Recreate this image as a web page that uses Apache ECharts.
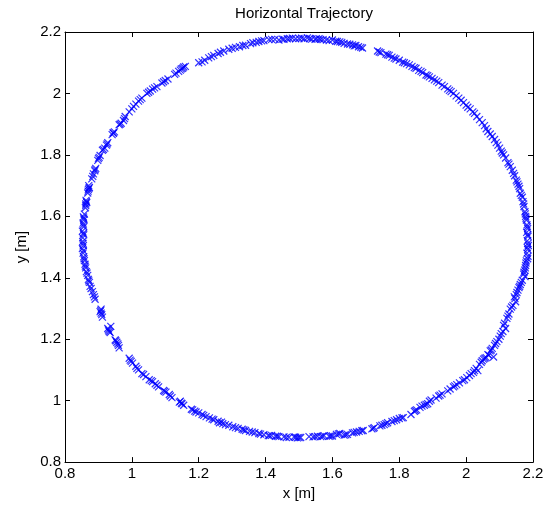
<!DOCTYPE html>
<html>
<head>
<meta charset="utf-8">
<script src="https://cdn.jsdelivr.net/npm/echarts@6/dist/echarts.min.js"></script>
<style>
  html, body { margin: 0; padding: 0; background: #fff; }
  #traj { width: 549px; height: 506px; }
</style>
</head>
<body>
<div id="traj"></div>
<script>
// axis ticks
const xTicks = [0.8, 1, 1.2, 1.4, 1.6, 1.8, 2, 2.2];
const yTicks = [0.8, 1, 1.2, 1.4, 1.6, 1.8, 2, 2.2];

const upperLeft = [
  [0.853,1.530],[0.855,1.545],[0.852,1.552],[0.856,1.566],[0.854,1.578],[0.857,1.589],
  [0.855,1.598],[0.858,1.607],[0.861,1.628],[0.862,1.640],[0.865,1.645],[0.863,1.652],
  [0.868,1.676],[0.870,1.688],[0.873,1.694],[0.871,1.700],[0.880,1.722],[0.885,1.738],
  [0.889,1.748],[0.892,1.756],[0.898,1.782],[0.902,1.792],[0.905,1.798],[0.912,1.815],
  [0.919,1.822],[0.924,1.832],[0.928,1.840],[0.941,1.866],[0.944,1.872],[0.948,1.875],
  [0.962,1.898],[0.968,1.903],[0.975,1.912],[0.980,1.925],[0.992,1.940],[1.005,1.958],
  [1.012,1.965],[1.020,1.975],[1.030,1.985],[1.045,2.000],[1.055,2.008],[1.062,2.014],
  [1.075,2.022],[1.090,2.034],[1.100,2.042],[1.108,2.047],[1.128,2.062],[1.140,2.072],
  [1.148,2.080],[1.155,2.086],[1.200,2.100],[1.210,2.103],[1.230,2.116],[1.245,2.124],
  [1.258,2.130],[1.275,2.138],[1.290,2.144],[1.310,2.150],[1.322,2.152],[1.340,2.157],
  [1.355,2.162],[1.372,2.166],[1.380,2.169],[1.395,2.172],[1.410,2.175],[1.428,2.176],
  [1.440,2.174],[1.450,2.177],[1.465,2.178],[1.480,2.180],[1.500,2.179],[1.508,2.180]
];
const upperRight = [
  [1.515,2.178],[1.525,2.181],[1.538,2.177],[1.548,2.176],[1.560,2.178],[1.572,2.175],
  [1.590,2.172],[1.600,2.174],[1.610,2.170],[1.622,2.168],[1.635,2.163],[1.645,2.161],
  [1.660,2.158],[1.670,2.156],[1.685,2.150],[1.690,2.148],[1.735,2.138],[1.740,2.135],
  [1.760,2.128],[1.770,2.124],[1.778,2.118],[1.790,2.112],[1.800,2.108],[1.810,2.102],
  [1.822,2.097],[1.838,2.088],[1.850,2.082],[1.858,2.075],[1.870,2.068],[1.880,2.060],
  [1.890,2.054],[1.905,2.044],[1.918,2.035],[1.928,2.027],[1.945,2.015],[1.955,2.006],
  [1.962,2.000],[1.978,1.985],[1.985,1.978],[1.992,1.970],[2.005,1.955],[2.012,1.950],
  [2.020,1.940],[2.032,1.925],[2.040,1.915],[2.048,1.905],[2.060,1.885],[2.065,1.876],
  [2.072,1.868],[2.085,1.850],[2.090,1.840],[2.095,1.832],[2.105,1.812],[2.112,1.800],
  [2.118,1.790],[2.125,1.775],[2.132,1.762],[2.138,1.750],[2.145,1.732],[2.150,1.718],
  [2.155,1.705],[2.160,1.690],[2.162,1.675],[2.168,1.662],[2.170,1.648],[2.173,1.632],
  [2.176,1.615],[2.178,1.600],[2.180,1.588],[2.182,1.572],[2.184,1.560],[2.181,1.548],
  [2.185,1.535]
];
const lowerRight = [
  [2.183,1.520],[2.186,1.505],[2.184,1.492],[2.182,1.480],[2.185,1.470],[2.180,1.455],
  [2.178,1.440],[2.175,1.425],[2.172,1.412],[2.176,1.404],[2.168,1.392],[2.162,1.378],
  [2.158,1.368],[2.155,1.360],[2.150,1.345],[2.146,1.332],[2.148,1.322],[2.140,1.310],
  [2.132,1.298],[2.128,1.282],[2.122,1.268],[2.115,1.252],[2.118,1.235],[2.110,1.225],
  [2.102,1.210],[2.098,1.200],[2.092,1.192],[2.085,1.180],[2.078,1.170],[2.072,1.162],
  [2.082,1.142],[2.068,1.148],[2.060,1.140],[2.052,1.135],[2.045,1.125],[2.040,1.118],
  [2.030,1.105],[2.035,1.098],[2.022,1.092],[2.010,1.082],[2.002,1.075],[1.995,1.068],
  [1.980,1.058],[1.972,1.052],[1.962,1.045],[1.945,1.032],[1.928,1.022],[1.918,1.015],
  [1.910,1.008],[1.890,0.998],[1.885,0.990],[1.875,0.985],[1.862,0.978],[1.852,0.970],
  [1.845,0.965],[1.835,0.955],[1.812,0.945],[1.800,0.942],[1.792,0.938],[1.778,0.932],
  [1.765,0.928],[1.755,0.922],[1.742,0.918],[1.725,0.912],[1.718,0.908],[1.692,0.903],
  [1.680,0.900],[1.672,0.898],[1.660,0.895],[1.645,0.890],[1.635,0.888],[1.622,0.893],
  [1.612,0.890],[1.600,0.885],[1.590,0.884],[1.575,0.886],[1.565,0.883],[1.555,0.884],
  [1.542,0.882],[1.530,0.883]
];
const lowerLeft = [
  [1.505,0.880],[1.495,0.879],[1.485,0.882],[1.470,0.881],[1.455,0.882],[1.440,0.883],
  [1.430,0.884],[1.418,0.887],[1.408,0.886],[1.395,0.889],[1.380,0.893],[1.368,0.896],
  [1.352,0.900],[1.340,0.903],[1.330,0.907],[1.318,0.910],[1.302,0.915],[1.290,0.920],
  [1.272,0.925],[1.268,0.930],[1.258,0.933],[1.245,0.938],[1.232,0.944],[1.222,0.948],
  [1.210,0.955],[1.200,0.960],[1.188,0.966],[1.178,0.972],[1.155,0.985],[1.148,0.992],
  [1.145,0.998],[1.120,1.010],[1.112,1.020],[1.102,1.028],[1.095,1.033],[1.080,1.045],
  [1.070,1.055],[1.062,1.062],[1.052,1.068],[1.042,1.078],[1.030,1.088],[1.020,1.100],
  [1.012,1.112],[1.002,1.122],[0.995,1.132],[0.992,1.138],[0.962,1.172],[0.960,1.180],
  [0.955,1.190],[0.950,1.198],[0.935,1.222],[0.930,1.230],[0.937,1.242],[0.912,1.272],
  [0.910,1.280],[0.905,1.290],[0.908,1.298],[0.890,1.330],[0.885,1.345],[0.882,1.355],
  [0.875,1.372],[0.873,1.385],[0.870,1.395],[0.868,1.408],[0.864,1.420],[0.862,1.432],
  [0.860,1.444],[0.858,1.456],[0.856,1.468],[0.854,1.480],[0.852,1.495],[0.855,1.505],
  [0.853,1.518]
];
// second pass around the loop, overlapping the first
const secondLap = [
  [1.152,2.082],[1.160,2.088],[1.218,2.108],[1.238,2.120],[1.265,2.134],[1.300,2.147],
  [1.332,2.156],[1.362,2.165],[1.388,2.171],[1.418,2.176],[1.455,2.176],[1.472,2.179],
  [1.490,2.178],[1.532,2.179],[1.552,2.178],[1.565,2.176],[1.582,2.174],[1.615,2.169],
  [1.628,2.166],[1.652,2.160],[1.665,2.155],[1.678,2.152],[1.745,2.133],[1.765,2.126],
  [1.785,2.115],[1.815,2.100],[1.830,2.093],[1.845,2.084],[1.865,2.072],[1.885,2.058],
  [1.898,2.049],[1.912,2.040],[1.935,2.022],[1.950,2.010],[1.970,1.992],[2.000,1.962],
  [2.025,1.935],[2.055,1.895],[2.078,1.860],[2.100,1.822],[2.108,1.806],[2.128,1.770],
  [2.142,1.740],[2.152,1.712],[2.158,1.698],[2.165,1.668],[2.172,1.640],[2.177,1.608],
  [2.179,1.594],[2.183,1.566],[2.184,1.540],[2.185,1.512],[2.183,1.498],[2.184,1.462],
  [2.179,1.448],[2.177,1.432],[2.173,1.418],[2.165,1.385],[2.160,1.372],[2.152,1.352],
  [2.144,1.338],[2.136,1.305],[2.125,1.275],[2.112,1.245],[2.105,1.218],[2.088,1.186],
  [2.075,1.165],[2.065,1.150],[2.056,1.138],[2.048,1.130],[2.025,1.098],[2.015,1.088],
  [1.990,1.065],[1.966,1.048],[1.952,1.038],[1.922,1.018],[1.895,1.002],[1.880,0.988],
  [1.868,0.982],[1.848,0.968],[1.808,0.944],[1.785,0.935],[1.760,0.925],[1.748,0.920],
  [1.722,0.910],[1.688,0.902],[1.665,0.897],[1.640,0.889],[1.618,0.892],[1.595,0.885],
  [1.570,0.884],[1.548,0.883],[1.500,0.880],[1.490,0.881],[1.462,0.880],[1.435,0.884],
  [1.412,0.886],[1.385,0.891],[1.360,0.898],[1.335,0.905],[1.310,0.912],[1.280,0.922],
  [1.262,0.928],[1.240,0.940],[1.215,0.952],[1.192,0.963],[1.182,0.970],[1.150,0.990],
  [1.142,0.995],[1.115,1.015],[1.098,1.030],[1.075,1.050],[1.058,1.065],[1.035,1.085],
  [1.015,1.105],[0.998,1.128],[0.958,1.185],[0.952,1.195],[0.932,1.225],[0.928,1.235],
  [0.908,1.285],[0.907,1.294],[0.888,1.338],[0.878,1.365],[0.871,1.390],[0.866,1.415],
  [0.861,1.438],[0.857,1.462],[0.855,1.488],[0.854,1.512],[0.856,1.540],[0.855,1.572],
  [0.856,1.594],[0.862,1.635],[0.864,1.648],[0.869,1.682],[0.872,1.692],[0.883,1.730],
  [0.890,1.752],[0.900,1.788],[0.915,1.818],[0.926,1.836],[0.945,1.870],[0.965,1.900],
  [0.978,1.918],[1.000,1.950],[1.025,1.980],[1.050,2.004],[1.068,2.018],[1.095,2.038],
  [1.132,2.066],[1.145,2.076]
];

const font = 'Liberation Sans, Arial, Helvetica, sans-serif';
const chart = echarts.init(document.getElementById('traj'));

function valueAxis(pos, ticks, showLabels, name, nameGap) {
  return {
    type: 'value',
    position: pos,
    min: ticks[0],
    max: ticks[ticks.length - 1],
    interval: 0.2,
    name: name,
    nameLocation: 'middle',
    nameGap: nameGap,
    nameTextStyle: { color: '#000', fontFamily: font, fontSize: 15 },
    axisLine: { show: true, onZero: false, lineStyle: { color: '#000', width: 1 } },
    axisTick: { show: true, inside: true, length: 5, lineStyle: { color: '#000' } },
    axisLabel: {
      show: showLabels,
      color: '#000',
      fontFamily: font,
      fontSize: 15,
      margin: 4,
      formatter: v => String(Math.round(v * 10) / 10)
    },
    splitLine: { show: false }
  };
}

const markStyle = {
  type: 'scatter',
  symbol: 'path://M0,0L10,10M10,0L0,10',
  symbolSize: 7,
  itemStyle: { color: 'rgba(0,0,0,0)', borderColor: '#0000ff', borderWidth: 1.2 },
  silent: true,
  animation: false
};

chart.setOption({
  backgroundColor: '#fff',
  animation: false,
  title: {
    text: 'Horizontal Trajectory',
    left: 299,
    textAlign: 'center',
    top: 1,
    textStyle: { color: '#000', fontFamily: font, fontSize: 15, fontWeight: 'normal' }
  },
  grid: { left: 65, right: 16, top: 32, bottom: 43, containLabel: false },
  xAxis: [
    valueAxis('bottom', xTicks, true, 'x [m]', 23),
    valueAxis('top', xTicks, false, '', 0)
  ],
  yAxis: [
    valueAxis('left', yTicks, true, 'y [m]', 36),
    valueAxis('right', yTicks, false, '', 0)
  ],
  series: [
    Object.assign({ name: 'upperLeft', data: upperLeft }, markStyle),
    Object.assign({ name: 'upperRight', data: upperRight }, markStyle),
    Object.assign({ name: 'lowerRight', data: lowerRight }, markStyle),
    Object.assign({ name: 'lowerLeft', data: lowerLeft }, markStyle),
    Object.assign({ name: 'secondLap', data: secondLap }, markStyle)
  ]
});
</script>
</body>
</html>
